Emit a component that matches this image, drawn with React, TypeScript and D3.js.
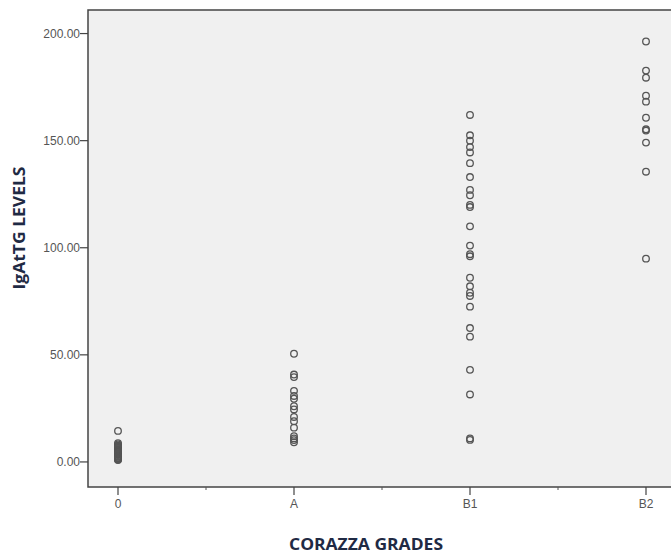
import React from "react";
import * as d3 from "d3";

const categories = ["0", "A", "B1", "B2"];
const grade0 = [14.5, 8.8, 8.2, 7.6, 7.1, 6.6, 6.1, 5.6, 5.2, 4.8, 4.4, 4.0, 3.6, 3.2, 2.8, 2.4, 2.0, 1.7, 1.4, 1.1, 0.9];
const gradeA = [50.5, 40.8, 39.6, 33.2, 30.8, 29.5, 26.0, 24.5, 21.0, 19.0, 16.0, 12.0, 11.0, 10.2, 9.2];
const gradeB1 = [162, 152.5, 150, 147, 144.5, 139.5, 133, 127, 124.5, 120, 119, 110, 101, 97, 96, 86, 82, 79, 77.5, 72.5, 62.5, 58.5, 43, 31.5, 11, 10.3];
const gradeB2 = [196.3, 182.7, 179.4, 171, 168.2, 160.7, 155.3, 154.7, 149.1, 135.5, 94.9];
const seriesValues = [grade0, gradeA, gradeB1, gradeB2];
const yTicks = [0, 50, 100, 150, 200];

const W = 671;
const H = 554;
const plotLeft = 88;
const plotTop = 10;
const plotBottom = 487;
const plotRight = 676;

export default function App() {
  const y = d3.scaleLinear().domain([-11.7, 211]).range([plotBottom, plotTop]);
  const x = d3.scaleLinear().domain([0, 3]).range([118, 646]);
  const minor = [0.5, 1.5, 2.5];
  const tickFont = "'Liberation Sans', Arial, sans-serif";
  const titleFont = "'Open Sans', 'Noto Sans', sans-serif";
  return (
    <svg width={W} height={H} style={{ position: "absolute", left: 0, top: 0, background: "#fff" }}>
      <rect x={plotLeft} y={plotTop} width={plotRight - plotLeft} height={plotBottom - plotTop} fill="#f0f0f0" stroke="#444" strokeWidth={1.5} />
      {yTicks.map((t) => (
        <g key={t}>
          <line x1={plotLeft - 8} x2={plotLeft} y1={y(t)} y2={y(t)} stroke="#444" strokeWidth={1.2} />
          <text x={plotLeft - 8} y={y(t)} dy="0.35em" textAnchor="end" fontSize={12} fontFamily={tickFont} fill="#555">
            {d3.format(".2f")(t)}
          </text>
        </g>
      ))}
      {categories.map((c, i) => (
        <g key={c}>
          <line x1={x(i)} x2={x(i)} y1={plotBottom} y2={plotBottom + 8} stroke="#444" strokeWidth={1.2} />
          <text x={x(i)} y={plotBottom + 21} textAnchor="middle" fontSize={12} fontFamily={tickFont} fill="#555">
            {c}
          </text>
        </g>
      ))}
      {minor.map((m) => (
        <line key={m} x1={x(m)} x2={x(m)} y1={plotBottom} y2={plotBottom + 3} stroke="#555" strokeWidth={1} />
      ))}
      {seriesValues.map((vals, i) =>
        vals.map((v, j) => (
          <circle key={`${i}-${j}`} cx={x(i)} cy={y(v)} r={3.3} fill="none" stroke="#555" strokeWidth={1.3} />
        ))
      )}
      <text x={366} y={550} textAnchor="middle" fontSize={16} fontWeight="bold" fontFamily={titleFont} fill="#1f2a44" textLength={154} lengthAdjust="spacingAndGlyphs">
        CORAZZA GRADES
      </text>
      <text transform={`translate(25,228) rotate(-90)`} textAnchor="middle" fontSize={16} fontWeight="bold" fontFamily={titleFont} fill="#1f2a44" textLength={123} lengthAdjust="spacingAndGlyphs">
        IgAtTG LEVELS
      </text>
    </svg>
  );
}
